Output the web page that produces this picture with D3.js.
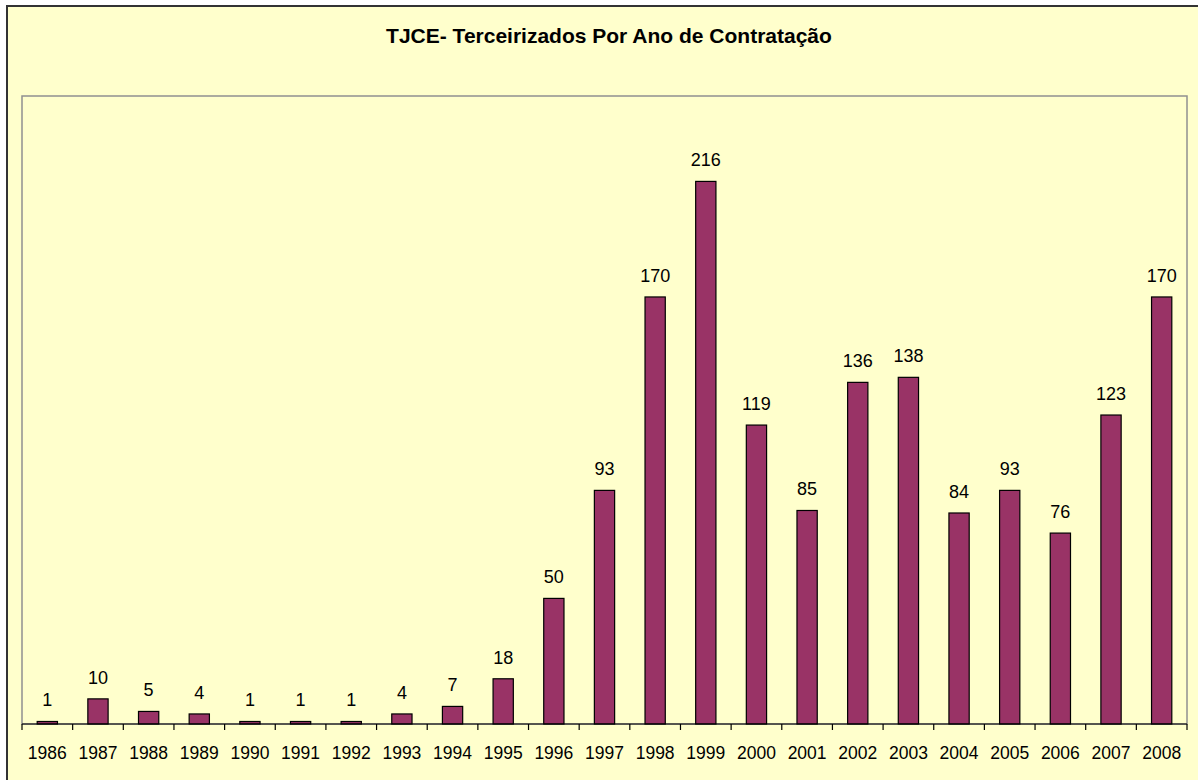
<!DOCTYPE html>
<html>
<head>
<meta charset="utf-8">
<script src="https://cdn.jsdelivr.net/npm/d3@7"></script>
<style>
  body { margin: 0; background: #fff; }
  svg { display: block; font-family: Arial, "Liberation Sans", sans-serif; }
</style>
</head>
<body>
<svg id="chart" width="1198" height="780"></svg>
<script>
// values
const years = ['1986','1987','1988','1989','1990','1991','1992','1993','1994','1995','1996','1997',
  '1998','1999','2000','2001','2002','2003','2004','2005','2006','2007','2008'];
const counts = [1, 10, 5, 4, 1, 1, 1, 4, 7, 18, 50, 93, 170, 216, 119, 85, 136, 138, 84, 93, 76, 123, 170];
const titleText = 'TJCE- Terceirizados Por Ano de Contratação';

const svg = d3.select('#chart');
const plot = {left: 22, top: 96, right: 1187, bottom: 724};

// chart area background + outer frame (runs off right/bottom edge like the screenshot)
svg.append('rect')
  .attr('x', 7).attr('y', 6)
  .attr('width', 1220).attr('height', 800)
  .attr('fill', '#FFFFCC')
  .attr('stroke', '#333').attr('stroke-width', 2);

// plot area frame
svg.append('rect')
  .attr('x', plot.left).attr('y', plot.top)
  .attr('width', plot.right - plot.left).attr('height', plot.bottom - plot.top)
  .attr('fill', '#FFFFCC')
  .attr('stroke', '#909090').attr('stroke-width', 1.5);

svg.append('text')
  .attr('x', 609).attr('y', 43)
  .attr('text-anchor', 'middle')
  .style('font-size', '21px').style('font-weight', 'bold')
  .text(titleText);

const x = d3.scaleBand().domain(years).range([plot.left, plot.right]).paddingInner(0.6).paddingOuter(0.3);
const y = d3.scaleLinear().domain([0, 250]).range([plot.bottom, plot.top]);

const data = years.map((yr, i) => ({year: yr, value: counts[i]}));

svg.append('g').selectAll('rect')
  .data(data)
  .join('rect')
  .attr('x', d => x(d.year))
  .attr('y', d => y(d.value))
  .attr('width', x.bandwidth())
  .attr('height', d => plot.bottom - y(d.value))
  .attr('fill', '#993366')
  .attr('stroke', '#000').attr('stroke-width', 1.2);

svg.append('g').selectAll('text')
  .data(data)
  .join('text')
  .attr('x', d => x(d.year) + x.bandwidth() / 2)
  .attr('y', d => y(d.value) - 15)
  .attr('text-anchor', 'middle')
  .style('font-size', '18px')
  .text(d => d.value);

// category axis: ticks sit between categories, like Excel
const tickX = d3.range(years.length + 1).map(i => plot.left + i * (plot.right - plot.left) / years.length);
const axis = svg.append('g');
axis.append('line')
  .attr('x1', plot.left).attr('x2', plot.right)
  .attr('y1', plot.bottom).attr('y2', plot.bottom)
  .attr('stroke', '#000').attr('stroke-width', 1.2);
axis.selectAll('line.tick')
  .data(tickX)
  .join('line')
  .attr('class', 'tick')
  .attr('x1', d => d).attr('x2', d => d)
  .attr('y1', plot.bottom).attr('y2', plot.bottom + 6)
  .attr('stroke', '#000').attr('stroke-width', 1.2);
axis.selectAll('text')
  .data(years)
  .join('text')
  .attr('x', d => x(d) + x.bandwidth() / 2)
  .attr('y', 759)
  .attr('text-anchor', 'middle')
  .style('font-size', '17.5px')
  .text(d => d);
</script>
</body>
</html>
